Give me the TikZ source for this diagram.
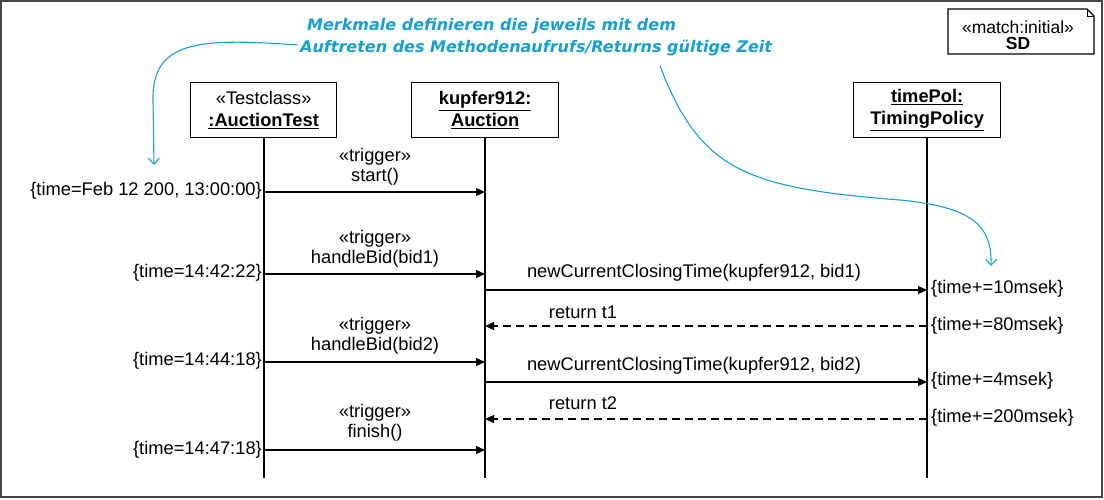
\documentclass[tikz,border=0pt]{standalone}
\usepackage{fontspec}
\setmainfont{Liberation Sans}
\newfontfamily\notefont{DejaVu Sans}
\usetikzlibrary{arrows.meta}
\definecolor{noteblue}{RGB}{20,160,215}
\definecolor{framegray}{RGB}{70,70,70}
\begin{document}
\begin{tikzpicture}[x=1pt,y=-1pt,
  every node/.style={font=\fontsize{18.3}{20.5}\selectfont, inner sep=0pt},
  lifebox/.style={draw, line width=1.3pt, minimum width=146pt, minimum height=55pt, align=center, anchor=north west},
  lifeline/.style={line width=1.1pt},
  msg/.style={line width=1.1pt, -{Triangle[length=9pt,width=8pt]}},
  ret/.style={line width=1.1pt, dash pattern=on 8pt off 5pt, -{Triangle[length=9pt,width=8pt]}},
  note/.style={noteblue, line width=1.1pt, -{Straight Barb[length=6pt,width=11pt]}},
  lbl/.style={align=center},
  tl/.style={anchor=east},
  tr/.style={anchor=west}]
\useasboundingbox (0,0) rectangle (1104,500);
\draw[framegray, line width=2pt] (1,1) rectangle (1102,497);

% SD frame label
\draw[line width=1.2pt] (948,9) -- (1087,9) -- (1094,16) -- (1094,54) -- (948,54) -- cycle;
\draw[line width=0.8pt] (1087,9) -- (1087,16) -- (1094,16);
\node[align=center, font=\fontsize{17.5}{16}\selectfont] (sd) at (1018,35) {«match:initial»\\\textbf{SD}};

% lifeline heads
\node[lifebox] (t) at (190,82) {«Testclass»\\[1.5pt]\underline{\textbf{:AuctionTest}}};
\node[lifebox, minimum width=147pt] (a) at (411,82) {\underline{\textbf{kupfer912:}}\\[1.5pt]\underline{\textbf{Auction}}};
\node[lifebox, minimum width=147pt] (p) at (853,82) {\underline{\textbf{timePol:}}\\[1.5pt]\underline{\textbf{TimingPolicy}}};

\coordinate (te) at (264,478);
\coordinate (ae) at (485,478);
\coordinate (pe) at (927,478);
\draw[lifeline] (t.south -| te) -- (te);
\draw[lifeline] (a.south -| ae) -- (ae);
\draw[lifeline] (p.south -| pe) -- (pe);

% message points
\coordinate (t1) at (264,192); \coordinate (a1) at (485,192);
\coordinate (t2) at (264,274); \coordinate (a2) at (485,274);
\coordinate (a3) at (485,290); \coordinate (p3) at (927,290);
\coordinate (a4) at (485,326); \coordinate (p4) at (927,326);
\coordinate (t5) at (264,362); \coordinate (a5) at (485,362);
\coordinate (a6) at (485,382); \coordinate (p6) at (927,382);
\coordinate (a7) at (485,419); \coordinate (p7) at (927,419);
\coordinate (t8) at (264,450); \coordinate (a8) at (485,450);

\draw[msg] (t1) -- (a1);
\draw[msg] (t2) -- (a2);
\draw[msg] (a3) -- (p3);
\draw[ret] (p4) -- (a4);
\draw[msg] (t5) -- (a5);
\draw[msg] (a6) -- (p6);
\draw[ret] (p7) -- (a7);
\draw[msg] (t8) -- (a8);

% message labels
\node[lbl] (m1) at (375,167) {«trigger»\\start()};
\node[lbl] (m2) at (375,249) {«trigger»\\handleBid(bid1)};
\node[lbl] (m3) at (694,273) {newCurrentClosingTime(kupfer912, bid1)};
\node[lbl] (m4) at (583,312) {return t1};
\node[lbl] (m5) at (375,336) {«trigger»\\handleBid(bid2)};
\node[lbl] (m6) at (694,366) {newCurrentClosingTime(kupfer912, bid2)};
\node[lbl] (m7) at (583,403) {return t2};
\node[lbl] (m8) at (375,423) {«trigger»\\finish()};

% time constraints
\node[tl] (c1) at (262,191) {\{time=Feb 12 200, 13:00:00\}};
\node[tl] (c2) at (262,273) {\{time=14:42:22\}};
\node[tl] (c3) at (262,361) {\{time=14:44:18\}};
\node[tl] (c4) at (262,450) {\{time=14:47:18\}};
\node[tr] (c5) at (931,289) {\{time+=10msek\}};
\node[tr] (c6) at (931,326) {\{time+=80msek\}};
\node[tr] (c7) at (931,381) {\{time+=4msek\}};
\node[tr] (c8) at (931,418) {\{time+=200msek\}};

% annotation
\node[anchor=west, noteblue, font=\notefont\bfseries\itshape\fontsize{16}{22}\selectfont, align=left] (n) at (300,37)
  {\hspace*{7pt}Merkmale definieren die jeweils mit dem\\Auftreten des Methodenaufrufs/Returns gültige Zeit};
\coordinate (n1) at (298,45);
\coordinate (n1e) at (154,165);
\coordinate (n2) at (660,66);
\coordinate (n2m) at (900,200);
\coordinate (n2e) at (991,266);
\draw[note] (n1) .. controls (200,38) and (152,40) .. (153,100) -- (n1e);
\draw[note] (n2) .. controls (700,170) and (745,188) .. (n2m) .. controls (972,207) and (992,225) .. (n2e);
\end{tikzpicture}
\end{document}
